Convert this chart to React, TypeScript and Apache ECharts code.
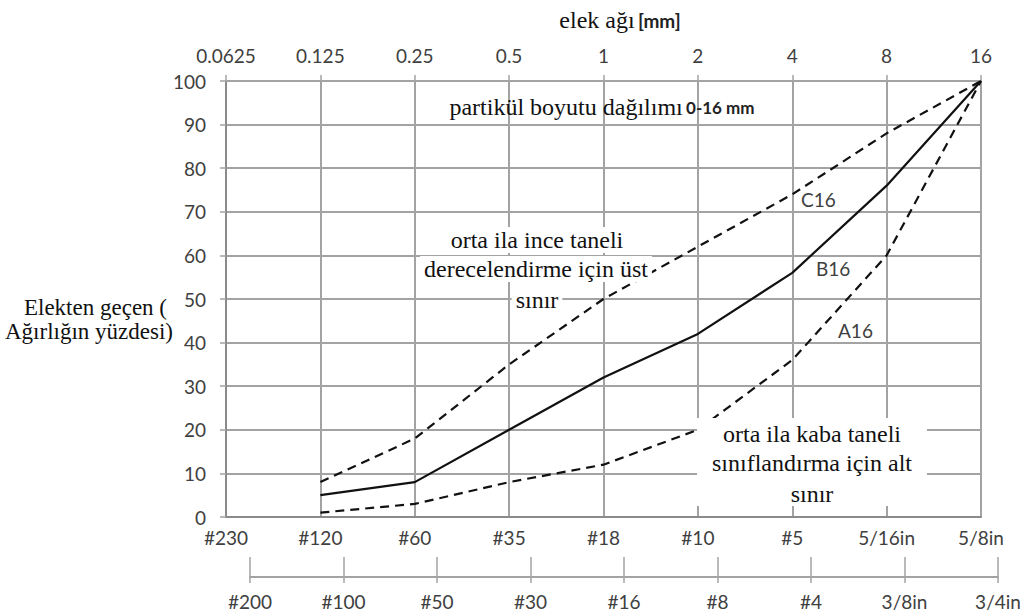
import React, { useEffect, useRef } from "react";
import * as echarts from "echarts";

const sizesMm = ["0.0625", "0.125", "0.25", "0.5", "1", "2", "4", "8", "16"];
const sieveUS = ["#230", "#120", "#60", "#35", "#18", "#10", "#5", "5/16in", "5/8in"];
const sieveUS2 = ["#200", "#100", "#50", "#30", "#16", "#8", "#4", "3/8in", "3/4in"];
const curveA16 = [null, 1, 3, 8, 12, 20, 36, 60, 100];
const curveB16 = [null, 5, 8, 20, 32, 42, 56, 76, 100];
const curveC16 = [null, 8, 18, 35, 50, 62, 74, 88, 100];
const yTicks = { min: 0, max: 100, interval: 10 };

const SANS = "Lato";
const SERIF = "Liberation Serif";
const LABEL = "#404040";
const GRID = "#a3a3a3";
const AXIS = "#8a8a8a";
const LSIZE = 19;
const SSIZE = 24;

export default function App() {
  const ref = useRef<HTMLDivElement>(null);
  useEffect(() => {
    if (!ref.current) return;
    const chart = echarts.init(ref.current, undefined, { renderer: "svg" });
    const toData = (arr: (number | null)[]) => arr.map((v) => (v == null ? "-" : v));
    const lineSeries = (name: string, data: (number | null)[], dashed: boolean) => ({
      name,
      type: "line",
      xAxisIndex: 0,
      yAxisIndex: 0,
      data: toData(data),
      symbol: "none",
      z: 5,
      lineStyle: { color: "#111", width: 2.2, type: dashed ? [9, 6] : "solid" },
    });
    const serifText = (
      text: string,
      x: number,
      y: number,
      size = SSIZE,
      bg = false,
      align = "center"
    ) => ({
      type: "text",
      x,
      y,
      z: 20,
      style: {
        text,
        fontFamily: SERIF,
        fontSize: size,
        fill: "#111",
        align,
        verticalAlign: "middle",
        backgroundColor: bg ? "#fff" : undefined,
        padding: bg ? [1, 4] : undefined,
      },
    });
    const sansText = (text: string, x: number, y: number) => ({
      type: "text",
      x,
      y,
      z: 20,
      style: {
        text,
        fontFamily: SANS,
        fontSize: LSIZE,
        fill: LABEL,
        align: "left",
        verticalAlign: "middle",
      },
    });
    chart.setOption({
      animation: false,
      backgroundColor: "#fff",
      grid: [
        { left: 226, right: 51, top: 81, bottom: 96 },
        { left: 250, right: 34, top: 557, height: 20 },
      ],
      xAxis: [
        {
          gridIndex: 0,
          type: "category",
          position: "bottom",
          data: sieveUS,
          boundaryGap: false,
          axisLine: { show: true, lineStyle: { color: AXIS, width: 2 } },
          axisTick: { show: false },
          axisLabel: { color: LABEL, fontFamily: SANS, fontSize: LSIZE, margin: 11 },
          splitLine: { show: true, lineStyle: { color: GRID, width: 2 } },
        },
        {
          gridIndex: 0,
          type: "category",
          position: "top",
          data: sizesMm,
          boundaryGap: false,
          axisLine: { show: true, lineStyle: { color: GRID, width: 2 } },
          axisTick: { show: true, length: 6, lineStyle: { color: GRID, width: 1.5 } },
          axisLabel: { color: LABEL, fontFamily: SANS, fontSize: LSIZE, margin: 16 },
          splitLine: { show: false },
        },
        {
          gridIndex: 1,
          type: "category",
          position: "bottom",
          data: sieveUS2,
          boundaryGap: false,
          axisLine: { show: true, lineStyle: { color: GRID, width: 2 } },
          axisTick: { show: true, length: 6, lineStyle: { color: GRID, width: 1.5 } },
          axisLabel: { color: LABEL, fontFamily: SANS, fontSize: LSIZE, margin: 15 },
          splitLine: { show: true, lineStyle: { color: GRID, width: 1.5 } },
        },
      ],
      yAxis: [
        {
          gridIndex: 0,
          type: "value",
          min: yTicks.min,
          max: yTicks.max,
          interval: yTicks.interval,
          axisLine: { show: true, lineStyle: { color: AXIS, width: 2 } },
          axisTick: { show: true, length: 6, lineStyle: { color: GRID, width: 1.5 } },
          axisLabel: { color: LABEL, fontFamily: SANS, fontSize: LSIZE, margin: 20 },
          splitLine: { show: true, lineStyle: { color: GRID, width: 2 } },
        },
        {
          gridIndex: 1,
          type: "value",
          show: false,
          min: 0,
          max: 1,
        },
      ],
      series: [
        lineSeries("A16", curveA16, true),
        lineSeries("B16", curveB16, false),
        lineSeries("C16", curveC16, true),
      ],
      graphic: [
        {
          type: "text",
          x: 620,
          y: 20,
          z: 20,
          style: {
            text: "{a|elek ağı} {b|[mm]}",
            align: "center",
            verticalAlign: "middle",
            rich: {
              a: { fontFamily: SERIF, fontSize: 24, fill: "#111", color: "#111" },
              b: { fontFamily: SANS, fontWeight: "bold", fontSize: 19, fill: "#222", color: "#222" },
            },
          },
        },
        {
          type: "text",
          x: 602,
          y: 107,
          z: 20,
          style: {
            text: "{a|partikül boyutu dağılımı} {b|0-16 mm}",
            align: "center",
            verticalAlign: "middle",
            rich: {
              a: { fontFamily: SERIF, fontSize: 24, fill: "#111", color: "#111" },
              b: { fontFamily: SANS, fontWeight: "bold", fontSize: 17, fill: "#222", color: "#222" },
            },
          },
        },
        serifText("Elekten geçen (", 167, 307, 23, false, "right"),
        serifText("Ağırlığın yüzdesi)", 89, 331, 23),
        serifText("orta ila ince taneli", 537, 240, SSIZE, true),
        serifText("derecelendirme için üst", 536, 269, SSIZE, true),
        serifText("sınır", 537, 300, SSIZE, true),
        {
          type: "rect",
          z: 15,
          shape: { x: 697, y: 418, width: 230, height: 88 },
          style: { fill: "#fff" },
        },
        serifText("orta ila kaba taneli", 812, 434),
        serifText("sınıflandırma için alt", 812, 463),
        serifText("sınır", 812, 494),
        sansText("C16", 801, 199),
        sansText("B16", 816, 268),
        sansText("A16", 838, 330),
      ],
    });
    return () => chart.dispose();
  }, []);
  return (
    <div
      ref={ref}
      style={{ position: "absolute", left: 0, top: 0, width: 1032, height: 613 }}
    />
  );
}
